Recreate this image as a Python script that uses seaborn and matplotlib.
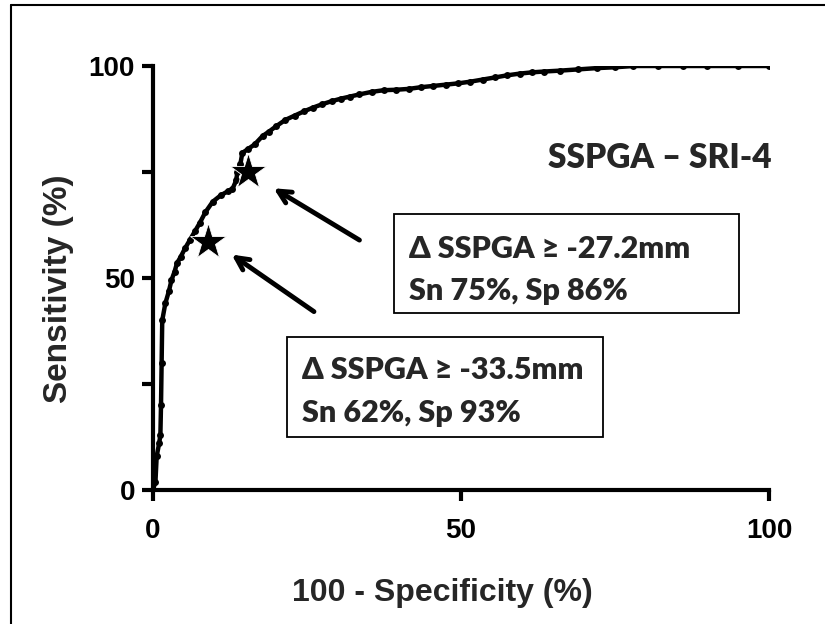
import matplotlib
matplotlib.use("Agg")
import matplotlib.pyplot as plt
import seaborn as sns
from matplotlib.lines import Line2D
from matplotlib.patches import Rectangle

# ROC curve points (100 - specificity, sensitivity)
fpr = [0, 0.4, 0.6, 1.0, 1.2, 1.3, 1.4, 1.5, 2.0, 2.6, 3.0, 3.5, 3.9, 4.5, 5.2,
       6.0, 6.8, 7.6, 8.5, 9.7, 11.0, 12.2, 12.9, 13.5, 13.7, 14.2, 14.5, 15.5,
       16.5, 17.8, 18.8, 20.0, 21.5, 23.0, 24.5, 26.0, 27.5, 29.0, 30.5, 32.0,
       33.5, 35.5, 37.5, 39.5, 41.5, 43.5, 45.5, 47.5, 49.5, 51.5, 53.5, 55.5,
       57.5, 59.5, 61.5, 63.5, 66.0, 69.0, 72.0, 75.0, 78.0, 82.0, 86.0, 90.0,
       95.0, 100.0]
tpr = [0, 2, 8, 11, 13, 20, 30, 40, 44, 47, 49.5, 51.5, 53.5, 55, 57,
       59, 61, 63, 65.5, 68, 69.5, 70.5, 71, 73, 75, 77, 79.5, 80.5,
       81.5, 83.5, 84.5, 85.8, 87.3, 88.3, 89.3, 90.2, 91.0, 91.7, 92.3, 92.8,
       93.3, 93.9, 94.3, 94.4, 94.6, 95.0, 95.3, 95.6, 95.9, 96.3, 96.8, 97.3,
       97.8, 98.2, 98.5, 98.7, 98.9, 99.2, 99.5, 99.7, 100, 100, 100, 100,
       100, 100]

# cut-off points marked with stars
star_x = [15.5, 9.0]
star_y = [75.0, 58.5]

box_lines = [["Δ SSPGA ≥ -27.2mm", "Sn 75%, Sp 86%"],
             ["Δ SSPGA ≥ -33.5mm", "Sn 62%, Sp 93%"]]
title_text = "SSPGA – SRI-4"

sns.set_style("ticks")
plt.rcParams['font.family'] = ['Liberation Sans', 'DejaVu Sans']
plt.rcParams['font.weight'] = 'bold'

fig = plt.figure(figsize=(8.25, 6.24), dpi=100)
ax = fig.add_axes([153/825, 1 - 490/624, 616/825, 424/624])

sns.lineplot(x=fpr, y=tpr, ax=ax, color='black', lw=3.2, marker='o', markersize=5,
             markeredgewidth=0, estimator=None, sort=False)
ax.plot(star_x, star_y, ls='none', marker='*', markersize=27, color='black',
        markeredgecolor='white', markeredgewidth=0.6, clip_on=False, zorder=5)

# arrows pointing at the stars
ax.annotate('', xy=(19.2, 71.5), xytext=(33.9, 58.6),
            arrowprops=dict(arrowstyle='->,head_length=0.9,head_width=0.45', lw=3.5, color='black'))
ax.annotate('', xy=(12.4, 55.9), xytext=(26.5, 41.7),
            arrowprops=dict(arrowstyle='->,head_length=0.9,head_width=0.45', lw=3.5, color='black'))

# text boxes
ax.add_patch(Rectangle((39.1, 41.7), 56.0, 23.4, fill=False, lw=1.3, ec='black', clip_on=False))
ax.add_patch(Rectangle((21.8, 12.5), 51.3, 23.6, fill=False, lw=1.3, ec='black', clip_on=False))
calibri = ['Lato', 'DejaVu Sans']
ax.text(41.6, 56.8, box_lines[0][0], fontsize=22, fontweight='heavy', family=calibri, va='center')
ax.text(41.6, 46.9, box_lines[0][1], fontsize=22, fontweight='heavy', family=calibri, va='center')
ax.text(24.2, 28.3, box_lines[1][0], fontsize=22, fontweight='heavy', family=calibri, va='center')
ax.text(24.2, 18.2, box_lines[1][1], fontsize=22, fontweight='heavy', family=calibri, va='center')
ax.text(64.1, 78.3, title_text, fontsize=24, fontweight='heavy', family=calibri, va='center')

ax.set_xlim(0, 100)
ax.set_ylim(0, 100)
ax.set_xticks([0, 50, 100])
ax.set_yticks([0, 25, 50, 75, 100], labels=['0', '', '50', '', '100'])
ax.tick_params(width=3, length=8, labelsize=20, color='black', labelcolor='black')
ax.tick_params(axis='x', pad=12)
ax.tick_params(axis='y', pad=5)
for lab in ax.get_xticklabels() + ax.get_yticklabels():
    lab.set_fontweight('bold')
sns.despine(ax=ax)
for s in ['left', 'bottom']:
    ax.spines[s].set_linewidth(3)
    ax.spines[s].set_color('black')

ax.set_xlabel('100 - Specificity (%)', fontsize=23, fontweight='bold', va='center')
ax.set_ylabel('Sensitivity (%)', fontsize=24, fontweight='bold', va='center')
ax.xaxis.set_label_coords(0.469, -0.243)
ax.yaxis.set_label_coords(-0.154, 0.475)

# frame lines along the top and left edge of the picture
fig.add_artist(Line2D([11/825, 1], [1 - 5/624, 1 - 5/624], color='black', lw=1.5))
fig.add_artist(Line2D([11/825, 11/825], [0, 1 - 5/624], color='black', lw=1.5))

fig.savefig('out.png', dpi=100)
